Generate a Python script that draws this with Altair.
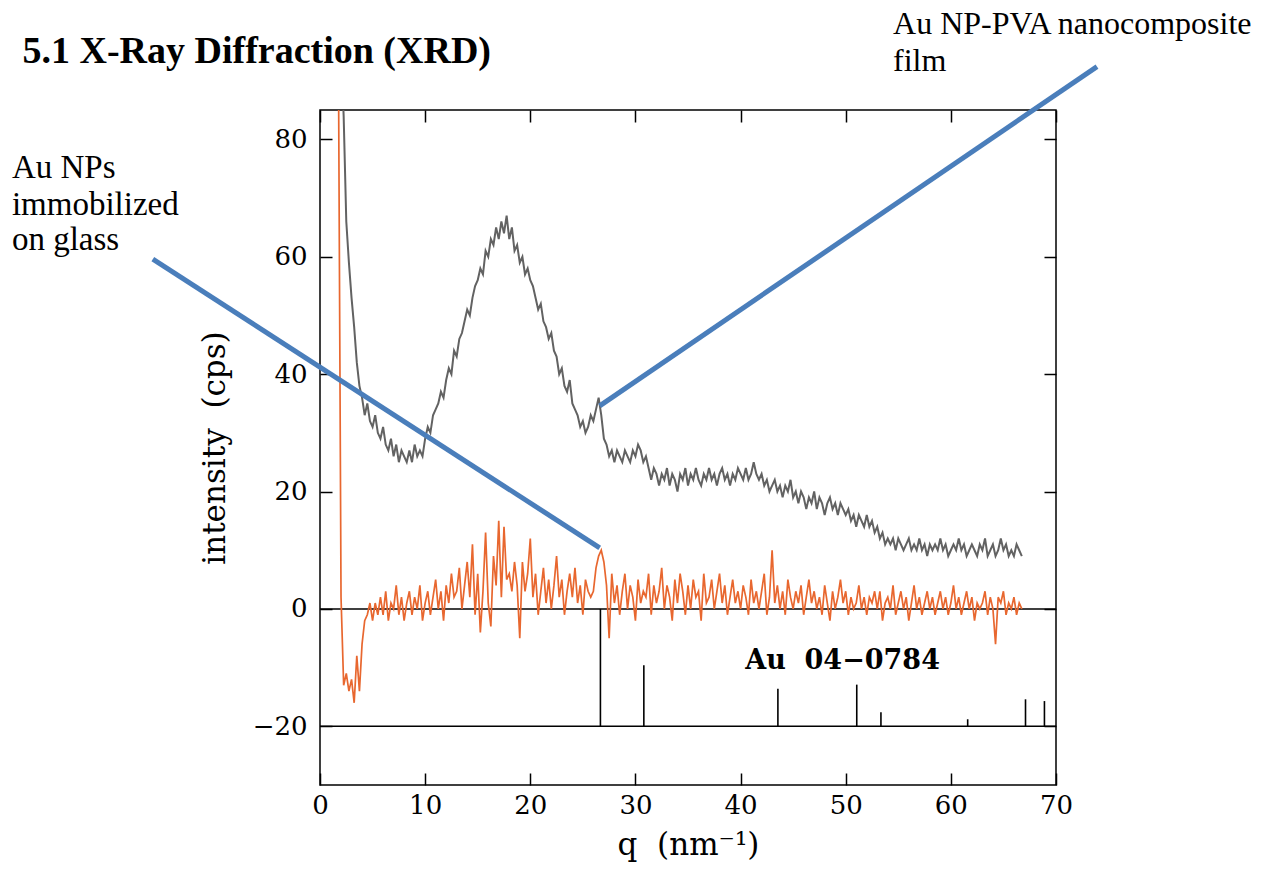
import altair as alt
import pandas as pd

# ---------------- data ----------------
Q_STEP = 0.25
GRAY_Q0 = 2.0      # first q of the PVA-film trace
ORANGE_Q0 = 1.75   # first q of the glass trace

# Au NP-PVA nanocomposite film (one row per integer q, 4 samples each)
GRAY = [
    95, 84, 66, 59,   # 2
    53, 48, 42, 38,   # 3
    36, 33, 35, 32,   # 4
    31, 33, 30, 29,   # 5
    31, 28, 27, 29,   # 6
    26, 28, 25, 27,   # 7
    26, 25, 27, 25,   # 8
    28, 26, 27, 26,   # 9
    29, 31, 30, 33,   # 10
    34, 35, 37, 36,   # 11
    39, 41, 40, 44,   # 12
    43, 46, 47, 49,   # 13
    51, 50, 53, 55,   # 14
    56, 58, 57, 61,   # 15
    60, 63, 62, 65,   # 16
    63, 66, 64, 67,   # 17
    63, 65, 61, 62,   # 18
    59, 60, 57, 58,   # 19
    56, 55, 53, 51,   # 20
    52, 49, 48, 46,   # 21
    47, 44, 43, 40,   # 22
    41, 38, 37, 39,   # 23
    35, 34, 33, 31,   # 24
    32, 30, 31, 33,   # 25
    32, 34, 36, 33,   # 26
    29, 28, 26, 27,   # 27
    25, 27, 26, 25,   # 28
    27, 26, 25, 27,   # 29
    26, 28, 27, 25,   # 30
    26, 24, 22, 24,   # 31
    23, 21, 23, 22,   # 32
    24, 21, 23, 22,   # 33
    20, 23, 22, 24,   # 34
    21, 23, 22, 24,   # 35
    22, 21, 23, 22,   # 36
    24, 22, 23, 21,   # 37
    23, 24, 22, 23,   # 38
    21, 23, 22, 24,   # 39
    23, 22, 24, 22,   # 40
    23, 25, 23, 22,   # 41
    23, 21, 22, 20,   # 42
    21, 22, 20, 21,   # 43
    19, 21, 20, 22,   # 44
    19, 20, 18, 20,   # 45
    19, 17, 19, 18,   # 46
    20, 17, 19, 18,   # 47
    16, 18, 19, 17,   # 48
    18, 16, 18, 17,   # 49
    16, 17, 15, 16,   # 50
    14, 16, 15, 14,   # 51
    16, 14, 15, 13,   # 52
    14, 12, 13, 11,   # 53
    12, 11, 12, 10,   # 54
    12, 11, 10, 11,   # 55
    12, 10, 11, 10,   # 56
    12, 10, 11, 9,    # 57
    11, 10, 11, 10,   # 58
    12, 10, 11, 9,    # 59
    10, 11, 10, 12,   # 60
    10, 11, 9, 10,    # 61
    11, 10, 9, 11,    # 62
    10, 12, 9, 10,    # 63
    11, 9, 10, 12,    # 64
    10, 11, 9, 10,    # 65
    9, 11, 10, 9,     # 66
]

# Au NPs immobilized on glass
ORANGE = [
    95,               # 1.75
    2, -13, -11, -14, # 2
    -12, -16, -8, -14,# 3
    -6, -2, -1, 1,    # 4
    -2, 1, -1, 2,     # 5
    -1, 3, -2, 1,     # 6
    0, 4, -1, 2,      # 7
    -2, 1, 3, -1,     # 8
    2, 0, 4, -2,      # 9
    1, 3, -1, 2,      # 10
    5, 0, 3, -2,      # 11
    4, 1, 6, 2,       # 12
    3, 7, 0, 4,       # 13
    8, 2, 11, -1,     # 14
    6, -4, 3, 13,     # 15
    1, -3, 9, 4,      # 16
    15, 2, 14, 5,     # 17
    6, 3, 8, 4,       # 18
    -5, 8, 3, 6,      # 19
    12, 2, 6, -1,     # 20
    3, 7, 1, 5,       # 21
    0, 4, 9, 2,       # 22
    5, -1, 3, 6,      # 23
    2, 7, 1, 4,       # 24
    -1, 5, 3, 2,      # 25
    3, 7, 9, 10,      # 26
    8, 4, -5, 6,      # 27
    1, 4, -1, 3,      # 28
    6, 0, 4, 2,       # 29
    -2, 5, 1, 3,      # 30
    2, 6, -1, 4,      # 31
    1, 3, 7, 0,       # 32
    4, 2, -2, 5,      # 33
    1, 6, 3, -1,      # 34
    4, 0, 5, 2,       # 35
    3, -2, 6, 1,      # 36
    2, 5, 0, 3,       # 37
    6, 1, 4, -1,      # 38
    2, 5, 1, 3,       # 39
    0, 4, 2, -1,      # 40
    5, 1, 3, 0,       # 41
    3, 6, -1, 2,      # 42
    10, 1, 4, 0,      # 43
    3, -1, 5, 2,      # 44
    0, 3, 1, 4,       # 45
    -1, 2, 5, 1,      # 46
    3, 0, 2, -1,      # 47
    4, 1, -2, 3,      # 48
    0, 2, 5, 1,       # 49
    3, -1, 2, 0,      # 50
    1, 4, 0, 2,       # 51
    -1, 2, 1, 3,      # 52
    0, 3, -2, 1,      # 53
    2, 0, 4, -1,      # 54
    1, 3, 0, 2,       # 55
    -2, 1, 4, 0,      # 56
    2, -1, 1, 3,      # 57
    0, 2, -1, 1,      # 58
    3, 0, 2, -1,      # 59
    1, 4, 0, 2,       # 60
    -1, 1, 3, 0,      # 61
    2, -2, 1, 0,      # 62
    1, 3, -1, 2,      # 63
    0, -6, 2, 1,      # 64
    3, -1, 1, 0,      # 65
    2, -1, 1, 0,      # 66
]

# Au reference pattern (card 04-0784): stick positions and tops
AU_Q = [26.67, 30.8, 43.55, 51.05, 53.35, 61.6, 67.1, 68.9]
AU_TOP = [0, -9.6, -13.6, -12.9, -17.6, -18.8, -15.4, -15.7]
AU_BASE = -20
AU_LABEL = "Au\u00a0\u00a004\u22120784"
AU_LABEL_POS = (49.7, -10.2)

HLINES = [0, -20]

X_TICKS = [0, 10, 20, 30, 40, 50, 60, 70]
Y_TICKS = [-20, 0, 20, 40, 60, 80]
X_DOMAIN = [0, 70]
Y_DOMAIN = [-30, 85]

# annotation leaders (from text to curve), data units
LEADER_X = [-15.9, 73.9]
LEADER_Y = [59.6, 92.4]
LEADER_X2 = [26.6, 26.6]
LEADER_Y2 = [10.4, 34.6]

NOTE_TEXT = ["Au NPs", "immobilized", "on glass", "Au NP-PVA nanocomposite", "film"]
NOTE_X = [-29.3, -29.3, -29.3, 54.5, 54.5]
NOTE_Y = [73.4, 67.1, 61.1, 98.0, 91.7]
NOTE_SIZE = [33, 33, 33, 32, 32]

TITLE_TEXT = "5.1 X-Ray Diffraction (XRD)"
TITLE_POS = (-28.3, 93.0)

# ---------------- build tables ----------------
gray_df = pd.DataFrame({"q": [GRAY_Q0 + i * Q_STEP for i in range(len(GRAY))], "v": GRAY})
orange_df = pd.DataFrame({"q": [ORANGE_Q0 + i * Q_STEP for i in range(len(ORANGE))], "v": ORANGE})
au_df = pd.DataFrame({"q": AU_Q, "top": AU_TOP, "base": [AU_BASE] * len(AU_Q)})
hl_df = pd.DataFrame({"v": HLINES})
leader_df = pd.DataFrame({"x": LEADER_X, "y": LEADER_Y, "x2": LEADER_X2, "y2": LEADER_Y2})
note_df = pd.DataFrame({"t": NOTE_TEXT, "x": NOTE_X, "y": NOTE_Y, "s": NOTE_SIZE})
title_df = pd.DataFrame({"t": [TITLE_TEXT], "x": [TITLE_POS[0]], "y": [TITLE_POS[1]]})
aulab_df = pd.DataFrame({"t": [AU_LABEL], "x": [AU_LABEL_POS[0]], "y": [AU_LABEL_POS[1]]})

XS = alt.Scale(domain=X_DOMAIN, nice=False, zero=False)
YS = alt.Scale(domain=Y_DOMAIN, nice=False, zero=False)
AXFONT = "DejaVu Serif"

common_axis = dict(
    offset=-12, tickSize=12, domain=False, grid=False,
    tickColor="black", tickWidth=1.5,
    labelFont=AXFONT, labelFontSize=26, labelColor="black",
    labelOverlap=False, labelFlush=False,
    titleFont=AXFONT, titleFontWeight="normal", titleColor="black",
)

x_bottom = alt.Axis(orient="bottom", values=X_TICKS, labelPadding=7,
                    title="q\u00a0\u00a0(nm\u207b\u00b9)",
                    titleFontSize=31, titlePadding=12, **common_axis)
y_left = alt.Axis(orient="left", values=Y_TICKS, labelPadding=13,
                  title="intensity\u00a0\u00a0(cps)",
                  titleFontSize=31, titlePadding=21, **common_axis)
x_top = alt.Axis(orient="top", values=X_TICKS, labels=False, title=None, offset=-12, tickSize=12,
                 domain=False, grid=False, tickColor="black", tickWidth=1.5)
y_right = alt.Axis(orient="right", values=Y_TICKS, labels=False, title=None, offset=-12, tickSize=12,
                   domain=False, grid=False, tickColor="black", tickWidth=1.5)

orange = alt.Chart(orange_df).mark_line(color="#E8672F", strokeWidth=1.7, clip=True).encode(
    x=alt.X("q:Q", scale=XS, axis=x_bottom),
    y=alt.Y("v:Q", scale=YS, axis=y_left),
)
gray = alt.Chart(gray_df).mark_line(color="#626262", strokeWidth=2, clip=True).encode(
    x=alt.X("q:Q", scale=XS, axis=x_top),
    y=alt.Y("v:Q", scale=YS, axis=y_right),
)
hlines = alt.Chart(hl_df).mark_rule(color="black", strokeWidth=1.5).encode(
    y=alt.Y("v:Q", scale=YS, axis=None),
)
sticks = alt.Chart(au_df).mark_rule(color="black", strokeWidth=1.6).encode(
    x=alt.X("q:Q", scale=XS, axis=None),
    y=alt.Y("base:Q", scale=YS, axis=None),
    y2="top:Q",
)
aulab = alt.Chart(aulab_df).mark_text(
    font=AXFONT, fontSize=27, fontWeight="bold", color="black", align="center", baseline="alphabetic"
).encode(
    x=alt.X("x:Q", scale=XS, axis=None),
    y=alt.Y("y:Q", scale=YS, axis=None),
    text="t:N",
)
leaders = alt.Chart(leader_df).mark_rule(color="#4A7EBB", strokeWidth=5, clip=False).encode(
    x=alt.X("x:Q", scale=XS, axis=None),
    y=alt.Y("y:Q", scale=YS, axis=None),
    x2="x2:Q",
    y2="y2:Q",
)
notes = alt.Chart(note_df).mark_text(
    font="Liberation Serif", color="black", align="left", baseline="alphabetic", clip=False
).encode(
    x=alt.X("x:Q", scale=XS, axis=None),
    y=alt.Y("y:Q", scale=YS, axis=None),
    text="t:N",
    size=alt.Size("s:Q", scale=None, legend=None),
)
title = alt.Chart(title_df).mark_text(
    font="Liberation Serif", fontSize=38, fontWeight="bold", color="black",
    align="left", baseline="alphabetic", clip=False
).encode(
    x=alt.X("x:Q", scale=XS, axis=None),
    y=alt.Y("y:Q", scale=YS, axis=None),
    text="t:N",
)

chart = alt.layer(
    hlines, sticks, orange, gray, aulab, leaders, notes, title
).resolve_axis(
    x="independent", y="independent"
).properties(
    width=736, height=675,
    autosize=alt.AutoSizeParams(type="none"),
    padding={"left": 320, "top": 110, "right": 210, "bottom": 86},
    background="white",
).configure_view(
    stroke="black", strokeWidth=1.5
)

chart.save("out.html", embed_options={"renderer": "svg", "actions": False})
